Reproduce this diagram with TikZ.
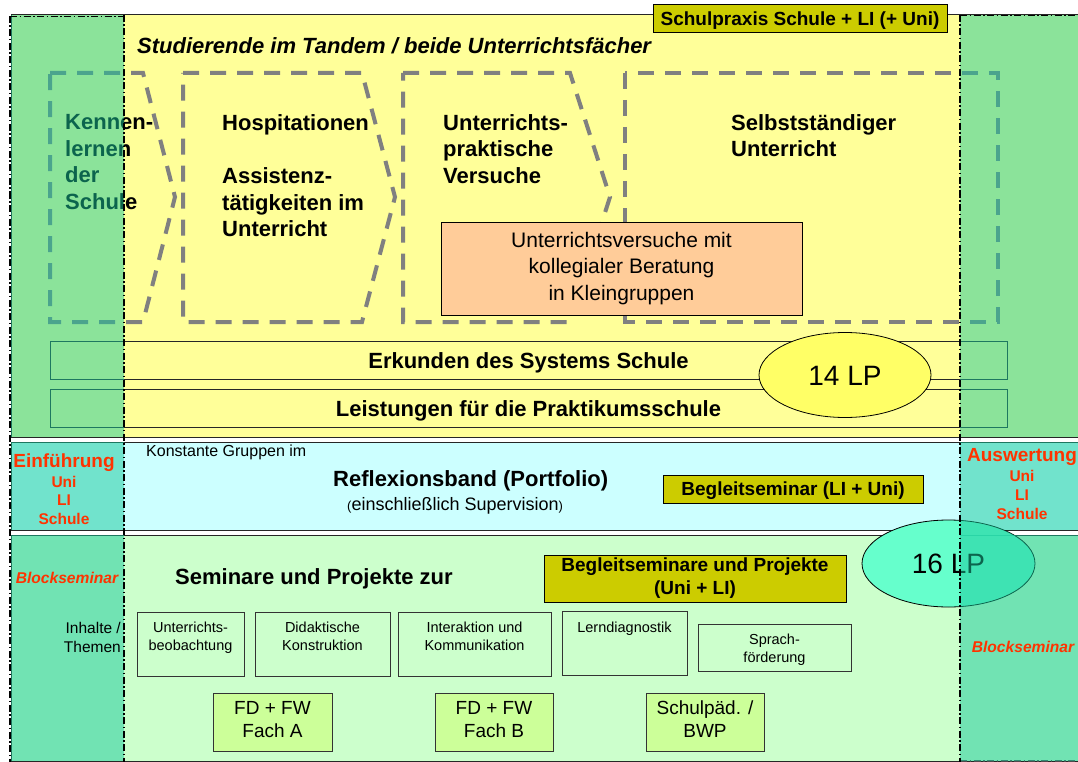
\documentclass[tikz,border=0pt]{standalone}
\usepackage{fontspec}
\setmainfont{Liberation Sans}
\usetikzlibrary{shapes.geometric}
\newcommand\myfs[2]{\fontsize{#1pt}{#2pt}\selectfont}
\definecolor{yel}{HTML}{FFFF99}
\definecolor{cyanbg}{HTML}{CCFFFF}
\definecolor{lgreen}{HTML}{CCFFCC}
\definecolor{olivebg}{HTML}{CCCC00}
\definecolor{orangebg}{HTML}{FFCC99}
\definecolor{fdgreen}{HTML}{CCFF99}
\definecolor{lpyel}{HTML}{FFFF66}
\definecolor{lpaqua}{HTML}{66FFCC}
\definecolor{ovlcol}{RGB}{24,200,155}
\definecolor{redt}{HTML}{FF3300}
\definecolor{dgrey}{HTML}{808080}
\tikzset{
  sec/.style={draw=black!85, line width=1pt},
  dashshape/.style={draw=dgrey, line width=4pt, dash pattern=on 16pt off 11pt},
  shapetxt/.style={anchor=north west, align=left, inner sep=0pt, font=\bfseries\myfs{22}{26.7}},
  ovl/.style={fill=ovlcol, fill opacity=0.5},
  dd/.style={draw=black, line width=1.3pt, dash pattern=on 7pt off 2.5pt on 1.5pt off 2.5pt},
  olivebox/.style={draw=black, line width=1pt, fill=olivebg, font=\bfseries\myfs{19}{23}, align=center, inner sep=0pt},
  oneline/.style={text height=13.6pt, text depth=0pt},
  band/.style={draw=black!85, line width=1pt, fill=yel, font=\bfseries\myfs{22}{22}, minimum width=957pt, minimum height=38pt, inner sep=0pt, text height=15.75pt, text depth=0pt},
  smallbox/.style={draw=black!80, line width=1pt, inner sep=0pt},
  smalltxt/.style={font=\myfs{14.5}{18}, align=center, inner sep=0pt, anchor=north},
  fdbox/.style={draw=black!80, line width=1pt, fill=fdgreen, font=\myfs{19}{23}, align=center, inner sep=0pt, minimum height=58pt, text depth=6pt},
  redbig/.style={text=redt, font=\bfseries\myfs{19}{19}, anchor=base, inner sep=0pt},
  redsmall/.style={text=redt, font=\bfseries\myfs{15.5}{15.5}, anchor=base, inner sep=0pt},
  redit/.style={text=redt, font=\bfseries\itshape\myfs{15.6}{15.6}, anchor=base, inner sep=0pt},
  lp/.style={ellipse, draw=black, line width=0.8pt, inner sep=0pt, font=\myfs{28}{28}},
}
\begin{document}
\begin{tikzpicture}[x=1pt,y=-1pt]
\useasboundingbox (0,0) rectangle (1078,762);
\clip (0,0) rectangle (1078,762);
% sections
\fill[white] (0,0) rectangle (1078,762);
\path[sec, fill=yel] (11,15) rectangle (1085,437);
\path[sec, fill=cyanbg] (11,442) rectangle (1085,530);
\path[sec, fill=lgreen] (11,535) rectangle (1085,761);
% dashed phase shapes
\draw[dashshape] (50,73) -- (143,73) -- (175,197) -- (143,322) -- (50,322) -- cycle;
\draw[dashshape] (183,73) -- (362,73) -- (395,197) -- (362,322) -- (183,322) -- cycle;
\draw[dashshape] (403,73) -- (570,73) -- (610,197) -- (570,322) -- (403,322) -- cycle;
\draw[dashshape] (625,73) rectangle (998,322);
\node[shapetxt] (kenn) at (65,114) {Kennen-\\lernen\\der\\Schule};
\node[shapetxt] (hosp) at (222,114) {Hospitationen\\\mbox{}\\Assistenz-\\tätigkeiten im\\Unterricht};
\node[shapetxt] (upv) at (443,114) {Unterrichts-\\praktische\\Versuche};
\node[shapetxt] (selb) at (731,114) {Selbstständiger\\Unterricht};
\node[draw=black, line width=1pt, fill=orangebg, minimum width=361pt, minimum height=93pt, inner sep=0pt, align=center, font=\myfs{21}{26.5}] (uv) at (621.5,268.5) {Unterrichtsversuche mit\\kollegialer Beratung\\in Kleingruppen};
% bands
\node[band] (erk) at (528.5,360.5) {Erkunden des Systems Schule};
\node[band] (leist) at (528.5,408.5) {Leistungen für die Praktikumsschule};
\node[lp, fill=lpyel, minimum width=172pt, minimum height=85pt, text height=20pt, text depth=0pt] (lp14) at (845,375) {14 LP};
% header
\node[olivebox, oneline, minimum width=294pt, minimum height=28pt] (sp) at (800,19) {Schulpraxis Schule + LI (+ Uni)};
\node[anchor=base west, inner sep=0pt, font=\bfseries\itshape\myfs{22}{22}] (title) at (137,54) {Studierende im Tandem / beide Unterrichtsfächer};
% middle
\node[anchor=base west, inner sep=0pt, font=\myfs{16}{16}] (kg) at (146,456.4) {Konstante Gruppen im};
\node[anchor=base west, inner sep=0pt, font=\bfseries\myfs{22}{22}] (refl) at (333,486) {Reflexionsband (Portfolio)};
\node[anchor=base west, inner sep=0pt, font=\myfs{18}{18}] (eins) at (347,510.5) {{\myfs{13}{13}(}einschließlich Supervision{\myfs{13}{13})}};
\node[olivebox, oneline, minimum width=260pt, minimum height=28pt] (bs) at (793,489) {Begleitseminar (LI + Uni)};
% bottom
\node[anchor=base west, inner sep=0pt, font=\bfseries\myfs{22}{22}] (sem) at (175,584) {Seminare und Projekte zur};
\node[olivebox, minimum width=302pt, minimum height=47pt] (bsp) at (695,578.5) {Begleitseminare und Projekte\\(Uni + LI)};
\node[lp, fill=lpaqua, minimum width=173pt, minimum height=87pt, text height=20pt, text depth=0pt] (lp16) at (948.5,563.5) {16 LP};
\node[smallbox, minimum width=107pt, minimum height=64pt] (b1) at (190.5,644) {};
\node[smalltxt] (t1) at (190.5,621.8) {Unterrichts-\\beobachtung};
\node[smallbox, minimum width=135pt, minimum height=64pt] (b2) at (322.5,644) {};
\node[smalltxt] (t2) at (322.5,621.8) {Didaktische\\Konstruktion};
\node[smallbox, minimum width=153pt, minimum height=64pt] (b3) at (474.5,644) {};
\node[smalltxt] (t3) at (474.5,621.8) {Interaktion und\\Kommunikation};
\node[smallbox, minimum width=125pt, minimum height=64pt] (b4) at (624.5,643) {};
\node[smalltxt] (t4) at (624.5,621.8) {Lerndiagnostik};
\node[smallbox, minimum width=153pt, minimum height=47pt] (b5) at (774.5,647.5) {};
\node[smalltxt] (t5) at (774.5,633.8) {Sprach-\\förderung};
\node[fdbox, minimum width=119pt] (fda) at (272.5,722) {FD + FW\\Fach A};
\node[fdbox, minimum width=118pt] (fdb) at (494,722) {FD + FW\\Fach B};
\node[fdbox, minimum width=118pt] (sbwp) at (705,722) {Schulpäd. /\\BWP};
\draw[dd, draw=black!70] (960,761) -- (1078,761);
% side column overlays
\fill[ovl] (11,15) rectangle (124,437);
\fill[ovl] (11,442) rectangle (124,530);
\fill[ovl] (11,535) rectangle (124,761);
\fill[ovl] (960,15) rectangle (1085,437);
\fill[ovl] (960,442) rectangle (1085,530);
\fill[ovl] (960,535) rectangle (1085,761);
\begin{scope}
\clip (960,530) rectangle (1085,535);
\fill[ovl] (948.5,563.5) ellipse [x radius=86.5pt, y radius=43.5pt];
\end{scope}
% column texts
\node[redbig] (einf) at (64,467.8) {Einführung};
\node[redsmall] (einf1) at (64,487.5) {Uni};
\node[redsmall] (einf2) at (64,505.5) {LI};
\node[redsmall] (einf3) at (64,524.5) {Schule};
\node[redbig] (ausw) at (1022,461.8) {Auswertung};
\node[redsmall] (ausw1) at (1022,481.5) {Uni};
\node[redsmall] (ausw2) at (1022,500) {LI};
\node[redsmall] (ausw3) at (1022,519) {Schule};
\node[redit] (blk1) at (67,583.6) {Blockseminar};
\node[redit] (blk2) at (1023,652.6) {Blockseminar};
\node[anchor=north east, align=right, inner sep=0pt, font=\myfs{15.5}{19}] (inh) at (121,622.4) {Inhalte /\\Themen};
% dash-dot column borders
\draw[dd] (10,16) -- (10,762);
\draw[dd] (10,16.5) -- (124,16.5);
\draw[dd] (124,15) -- (124,762);
\draw[dd] (960,15) -- (960,762);
\draw[dd] (960,15.5) -- (1078,15.5);
\end{tikzpicture}
\end{document}
